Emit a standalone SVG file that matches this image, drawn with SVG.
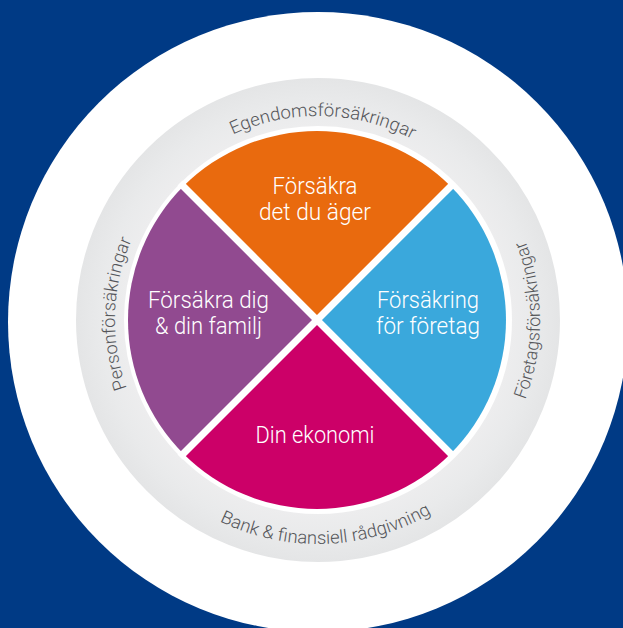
<svg xmlns="http://www.w3.org/2000/svg" width="623" height="628" viewBox="0 0 623 628">
<defs>
<radialGradient id="ringGrad" gradientUnits="userSpaceOnUse" cx="318" cy="320" r="242">
<stop offset="0.80" stop-color="#ededee"/>
<stop offset="0.90" stop-color="#e9eaeb"/>
<stop offset="1" stop-color="#e4e5e6"/>
</radialGradient>
<path id="arcTop" d="M114,320 A204,204 0 0 1 522,320"/>
<path id="arcLeft" d="M318,523 A203,203 0 0 1 318,117"/>
<path id="arcRight" d="M318,542 A222,222 0 0 0 318,98"/>
<path id="arcBottom" d="M94,320 A224,224 0 0 0 542,320"/>
</defs>
<style>
.ring{font-family:Roboto,"Liberation Sans",sans-serif;font-weight:300;font-size:18px;fill:#55565a;}
.lbl{font-family:Roboto,"Liberation Sans",sans-serif;font-weight:300;font-size:23.5px;fill:#ffffff;text-anchor:middle;}
.sep{stroke:#ffffff;stroke-width:7;}
</style>
<rect width="623" height="628" fill="#003a85"/>
<circle cx="318" cy="322" r="310" fill="#ffffff"/>
<g id="ring">
<circle cx="318" cy="320" r="218" fill="none" stroke="url(#ringGrad)" stroke-width="48"/>
<text class="ring"><textPath href="#arcTop" startOffset="50.8%" text-anchor="middle" textLength="186" lengthAdjust="spacingAndGlyphs">Egendomsförsäkringar</textPath></text>
<text class="ring"><textPath href="#arcLeft" startOffset="51%" text-anchor="middle" textLength="152" lengthAdjust="spacingAndGlyphs">Personförsäkringar</textPath></text>
<text class="ring"><textPath href="#arcRight" startOffset="50%" text-anchor="middle" textLength="163" lengthAdjust="spacingAndGlyphs">Företagsförsäkringar</textPath></text>
<text class="ring"><textPath href="#arcBottom" startOffset="51.2%" text-anchor="middle" textLength="221" lengthAdjust="spacingAndGlyphs">Bank &amp; finansiell rådgivning</textPath></text>
</g>
<g id="node-egendom">
<path d="M317,320 L183.36,186.36 A189,189 0 0 1 450.64,186.36 Z" fill="#e96a0e"/>
<text class="lbl" x="315" y="194" textLength="85" lengthAdjust="spacingAndGlyphs">Försäkra</text>
<text class="lbl" x="315" y="220" textLength="112" lengthAdjust="spacingAndGlyphs">det du äger</text>
</g>
<g id="node-foretag">
<path d="M317,320 L450.64,186.36 A189,189 0 0 1 450.64,453.64 Z" fill="#3aa8dc"/>
<text class="lbl" x="428" y="308" textLength="102" lengthAdjust="spacingAndGlyphs">Försäkring</text>
<text class="lbl" x="428" y="334" textLength="104" lengthAdjust="spacingAndGlyphs">för företag</text>
</g>
<g id="node-ekonomi">
<path d="M317,320 L450.64,453.64 A189,189 0 0 1 183.36,453.64 Z" fill="#cc0068"/>
<text class="lbl" x="315" y="443" textLength="119" lengthAdjust="spacingAndGlyphs">Din ekonomi</text>
</g>
<g id="node-person">
<path d="M317,320 L183.36,453.64 A189,189 0 0 1 183.36,186.36 Z" fill="#914a90"/>
<text class="lbl" x="208.5" y="308" textLength="121" lengthAdjust="spacingAndGlyphs">Försäkra dig</text>
<text class="lbl" x="208.5" y="334" textLength="107" lengthAdjust="spacingAndGlyphs">&amp; din familj</text>
</g>
<g id="connectors">
<line class="sep" x1="180" y1="183" x2="454" y2="457"/>
<line class="sep" x1="454" y1="183" x2="180" y2="457"/>
</g>
</svg>
